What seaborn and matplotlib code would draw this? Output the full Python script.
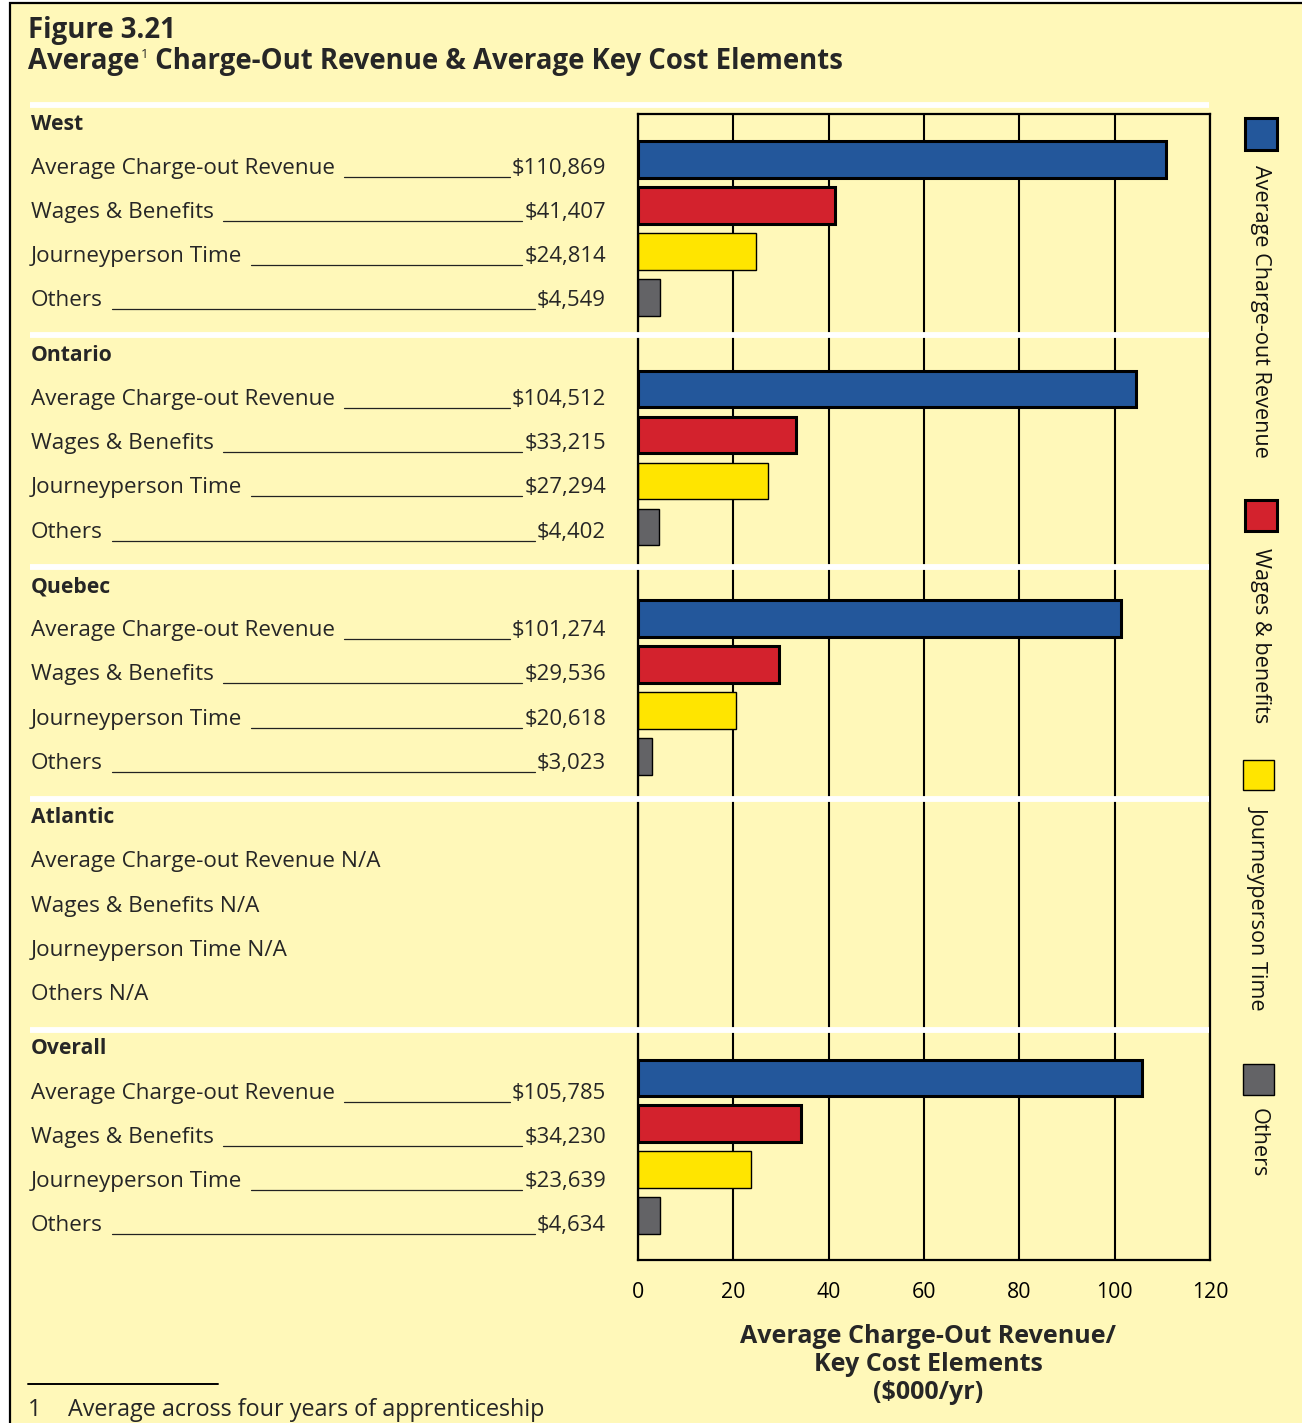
import numpy as np
import pandas as pd
import matplotlib
matplotlib.use("Agg")
import matplotlib.pyplot as plt
import seaborn as sns
from matplotlib.patches import Rectangle
from matplotlib.lines import Line2D
from matplotlib.transforms import blended_transform_factory
from matplotlib.colors import to_rgba

# ---------------- data ----------------
regions = ["West", "Ontario", "Quebec", "Atlantic", "Overall"]
elements = ["Average Charge-out Revenue", "Wages & Benefits", "Journeyperson Time", "Others"]
west = [110869, 41407, 24814, 4549]
ontario = [104512, 33215, 27294, 4402]
quebec = [101274, 29536, 20618, 3023]
atlantic = [None, None, None, None]
overall = [105785, 34230, 23639, 4634]
region_values = [west, ontario, quebec, atlantic, overall]
legend_labels = ["Average Charge-out Revenue", "Wages & benefits", "Journeyperson Time", "Others"]
colors = ["#23579B", "#D3222D", "#FFE500", "#636366"]
xticks = [0, 20, 40, 60, 80, 100, 120]
title1 = "Figure 3.21"
title2_a = "Average"
title2_sup = "1"
title2_b = " Charge-Out Revenue & Average Key Cost Elements"
xlabel = "Average Charge-Out Revenue/\nKey Cost Elements\n($000/yr)"
footnote_num = "1"
footnote = "Average across four years of apprenticeship"

BG = "#FFF8B9"
W, H = 1302, 1423

# ---------------- table ----------------
order = []
rows = []
for reg, vals in zip(regions, region_values):
    order.append(f"{reg}|header")
    for el, v in zip(elements, vals):
        slot = f"{reg}|{el}"
        order.append(slot)
        if v is not None:
            rows.append({"slot": slot, "element": el, "value": v / 1000.0})
df = pd.DataFrame(rows)

sns.set_theme(style="white")
plt.rcParams["font.family"] = ["Open Sans", "DejaVu Sans"]

fig = plt.figure(figsize=(W / 100, H / 100), dpi=100, facecolor="white")

def fx(x):
    return x / W

def fy(y):
    return 1 - y / H

# yellow framed background
frame = Rectangle((fx(10), -0.2), 2.0, fy(3) + 0.2, transform=fig.transFigure,
                  facecolor=BG, edgecolor="black", linewidth=1.6, zorder=-10)
fig.add_artist(frame)

ax = fig.add_axes([fx(638), fy(1260), fx(1210) - fx(638), (1260 - 114) / H])
ax.set_facecolor(BG)

sns.barplot(data=df, x="value", y="slot", hue="element", order=order,
            hue_order=elements, palette=colors, dodge=False, width=0.8,
            saturation=1, edgecolor="black", linewidth=1.0, legend=False, ax=ax)

thick = [to_rgba(colors[0]), to_rgba(colors[1])]
for p in ax.patches:
    fc = p.get_facecolor()
    if any(np.allclose(fc, c, atol=0.01) for c in thick):
        p.set_linewidth(2.2)
    else:
        p.set_linewidth(1.0)

ax.set_xlim(0, 120)
ax.set_ylim(24.965, 0.0087)
ax.set_xticks(xticks)
ax.set_xticklabels([str(t) for t in xticks], fontsize=15.3)
ax.tick_params(axis="x", length=0, pad=16, colors="black")
ax.tick_params(axis="y", left=False, labelleft=False)
ax.set_ylabel("")
ax.set_xlabel(xlabel, fontsize=18, fontweight="bold", linespacing=1.16)
ax.xaxis.set_label_coords(0.507, -0.0555)
ax.grid(axis="x", color="black", linewidth=1.5)
ax.grid(axis="y", visible=False)
ax.set_axisbelow(True)
for s in ax.spines.values():
    s.set_visible(True)
    s.set_color("black")
    s.set_linewidth(1.6)

# white separators
tr = blended_transform_factory(fig.transFigure, ax.transData)
for ysep in [-0.19, 4.83, 9.87, 14.92, 19.95]:
    ax.add_line(Line2D([fx(30), fx(1209)], [ysep, ysep], transform=tr,
                       color="white", linewidth=4.2, clip_on=False, zorder=5,
                       solid_capstyle="butt"))

# left text (rows of the text table, baseline in pixels)
HDR = 15.2
LBL = 16.2
VAL = 15.9
label_pairs = []
for g, (reg, vals) in enumerate(zip(regions, region_values)):
    base = 129.6 + 231.2 * g
    fig.text(fx(31), fy(base), reg, fontsize=HDR, fontweight="bold",
             ha="left", va="baseline")
    for r, (el, v) in enumerate(zip(elements, vals), start=1):
        yb = base + 44.2 * r
        if v is None:
            fig.text(fx(31), fy(yb), f"{el} N/A", fontsize=LBL, ha="left", va="baseline")
        else:
            t1 = fig.text(fx(31), fy(yb), el, fontsize=LBL, ha="left", va="baseline")
            t2 = fig.text(fx(606), fy(yb), f"${v:,}", fontsize=VAL, ha="right", va="baseline")
            label_pairs.append((t1, t2, yb))

# titles
fig.text(fx(28), fy(38), title1, fontsize=19.8, fontweight="bold", ha="left", va="baseline")
t_a = fig.text(fx(28), fy(69), title2_a, fontsize=19.8, fontweight="bold", ha="left", va="baseline")

# legend (right side, vertical text)
leg = [(1245, 118, 32, 32, 2.2, 165), (1245, 500, 32, 31, 2.2, 548),
       (1243, 760, 31, 30, 1.0, 806), (1243, 1064, 31, 31, 1.0, 1108)]
for (x0, y0, w, h, lw, ty), c, name in zip(leg, colors, legend_labels):
    fig.add_artist(Rectangle((fx(x0), fy(y0 + h)), w / W, h / H, transform=fig.transFigure,
                             facecolor=c, edgecolor="black", linewidth=lw))
    fig.text(fx(x0 + w / 2), fy(ty), name, rotation=270, fontsize=15.6,
             ha="center", va="top", color="#111111")

# footnote
fig.add_artist(Line2D([fx(28), fx(218)], [fy(1384), fy(1384)], transform=fig.transFigure,
                      color="black", linewidth=1.4))
fig.text(fx(28), fy(1416), footnote_num, fontsize=16.8, ha="left", va="baseline")
fig.text(fx(68), fy(1416), footnote, fontsize=16.8, ha="left", va="baseline")

# second pass: positions depending on measured text extents
fig.canvas.draw()
renderer = fig.canvas.get_renderer()
inv = fig.transFigure.inverted()

ba = t_a.get_window_extent(renderer)
xa = inv.transform((ba.x1 + 1, 0))[0]
t_s = fig.text(xa, fy(69 - 11), title2_sup, fontsize=9.5, ha="left", va="baseline")
fig.canvas.draw()
bs = t_s.get_window_extent(renderer)
xb = inv.transform((bs.x1, 0))[0]
fig.text(xb, fy(69), title2_b, fontsize=19.8, fontweight="bold", ha="left", va="baseline")

for t1, t2, yb in label_pairs:
    b1 = t1.get_window_extent(renderer)
    b2 = t2.get_window_extent(renderer)
    x_start = inv.transform((b1.x1 + 9, 0))[0]
    x_end = inv.transform((b2.x0 - 2, 0))[0]
    fig.add_artist(Line2D([x_start, x_end], [fy(yb + 3), fy(yb + 3)],
                          transform=fig.transFigure, color="#222222", linewidth=0.9))

fig.savefig("out.png", dpi=100, facecolor="white")
